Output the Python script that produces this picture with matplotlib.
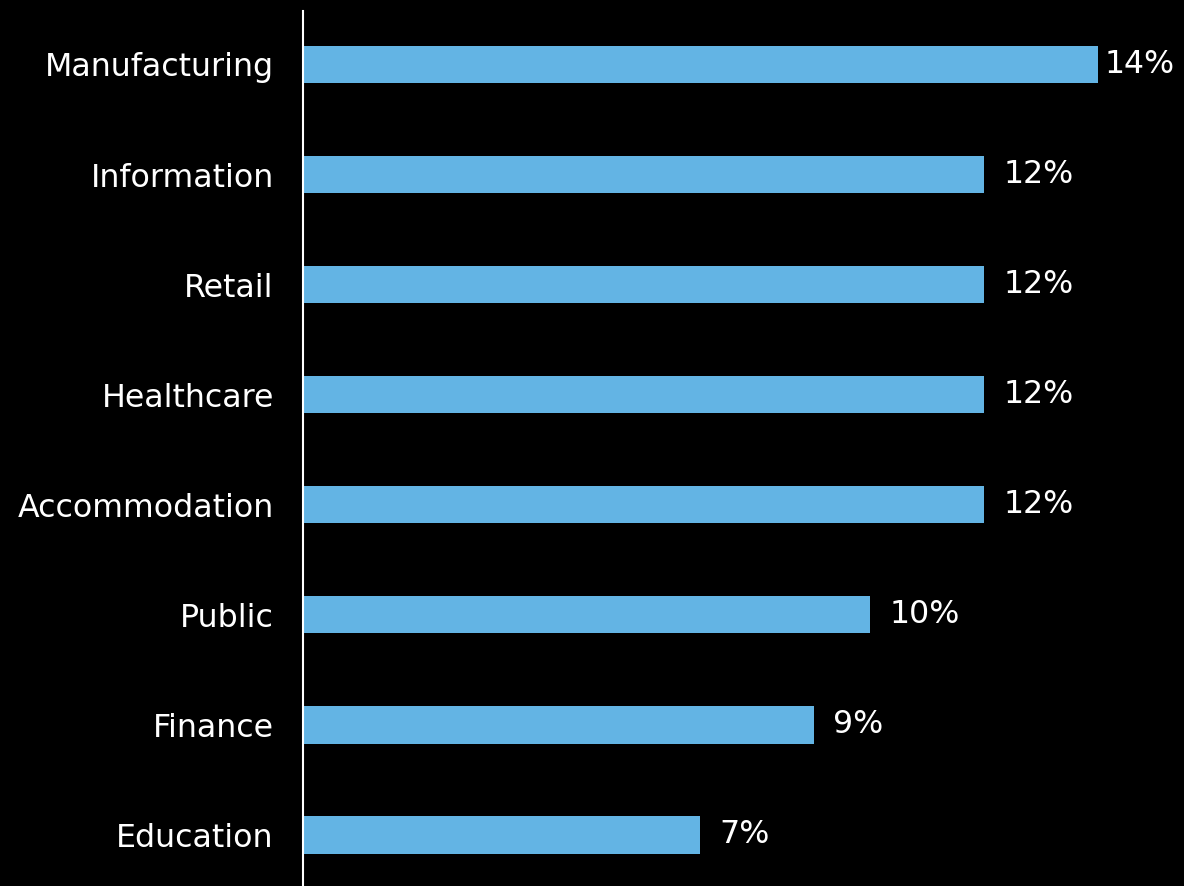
import matplotlib
matplotlib.use("Agg")
import matplotlib.pyplot as plt

categories = ["Manufacturing", "Information", "Retail", "Healthcare",
              "Accommodation", "Public", "Finance", "Education"]
values = [14, 12, 12, 12, 12, 10, 9, 7]
value_labels = ["14%", "12%", "12%", "12%", "12%", "10%", "9%", "7%"]

W, H, DPI = 1184, 886, 100
fig = plt.figure(figsize=(W / DPI, H / DPI), dpi=DPI, facecolor="black")
left_px, top_px = 303, 11
ax = fig.add_axes([left_px / W, 0, 1 - left_px / W, (H - top_px) / H])
ax.set_facecolor("black")

px_per_unit = 56.75
ax.set_xlim(0, (W - left_px) / px_per_unit)
ypos = list(range(len(categories)))
ax.set_ylim(7.466, -0.486)

ax.barh(ypos, values, height=0.342, color="#63B4E4")

ax.set_yticks(ypos)
ax.set_yticklabels(categories, fontsize=22.8, color="white", family="DejaVu Sans")
ax.tick_params(axis="y", length=0, pad=21)
ax.set_xticks([])

for s in ["top", "right", "bottom"]:
    ax.spines[s].set_visible(False)
ax.spines["left"].set_color("white")
ax.spines["left"].set_linewidth(1.5)

xmax = ax.get_xlim()[1]
for y, v, lab in zip(ypos, values, value_labels):
    room_pts = (xmax - v) * px_per_unit * 72 / DPI
    off = min(14, room_pts - 57)
    ax.annotate(lab, (v, y), xytext=(off, 0), textcoords="offset points",
                va="center", ha="left", fontsize=22.8, color="white",
                family="DejaVu Sans")

fig.savefig("out.png", dpi=DPI, facecolor="black")
